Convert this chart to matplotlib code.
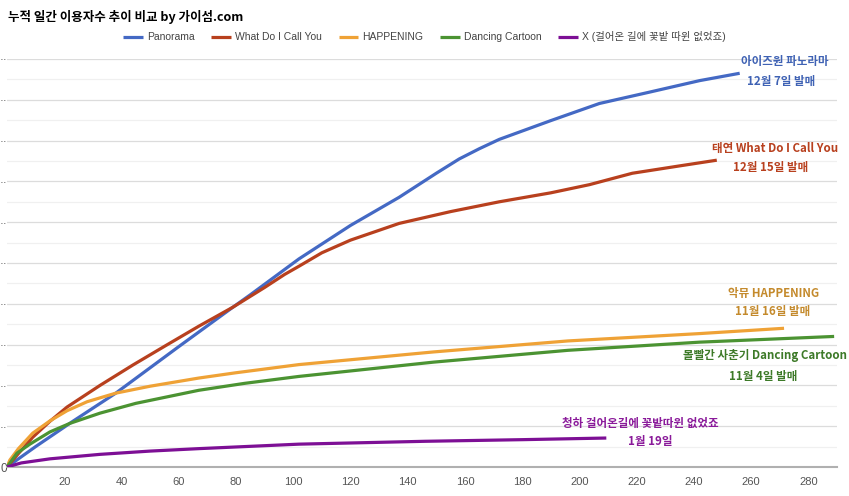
import matplotlib
matplotlib.use("Agg")
import matplotlib.pyplot as plt
from matplotlib.ticker import MultipleLocator

plt.rcParams['font.family'] = ['Liberation Sans', 'Noto Sans CJK KR']

# cumulative daily listeners (relative units)
pano_x = [0, 10, 23, 38, 60, 79, 85, 102, 120, 137, 150, 158, 165, 172, 190, 207, 224, 242, 256]
pano_y = [0, 0.5, 1.12, 1.81, 2.95, 3.92, 4.22, 5.1, 5.92, 6.61, 7.2, 7.55, 7.8, 8.03, 8.49, 8.91, 9.18, 9.47, 9.65]

wdicy_x = [0, 4, 9, 15, 21, 32.5, 44, 55.8, 67, 79, 90, 97, 102, 110, 120, 137, 155, 172, 190, 203.5, 218.5, 235, 248]
wdicy_y = [0, 0.33, 0.73, 1.12, 1.47, 2.0, 2.5, 2.99, 3.45, 3.92, 4.4, 4.72, 4.92, 5.25, 5.56, 5.97, 6.26, 6.5, 6.72, 6.92, 7.2, 7.38, 7.52]

happ_x = [0, 1, 4, 9, 15, 21, 28, 38, 50, 67, 80, 102, 149, 196, 242, 271.5]
happ_y = [0, 0.17, 0.45, 0.83, 1.13, 1.38, 1.6, 1.81, 1.98, 2.18, 2.31, 2.51, 2.82, 3.09, 3.27, 3.4]

dance_x = [0, 3.5, 8, 15, 22, 32.5, 45, 67, 83, 102, 149, 196, 242, 289]
dance_y = [0, 0.34, 0.56, 0.86, 1.07, 1.32, 1.56, 1.88, 2.05, 2.22, 2.57, 2.86, 3.06, 3.2]

x_x = [0, 5, 15, 32.5, 50, 67, 102, 146, 180, 209.4]
x_y = [0, 0.1, 0.2, 0.31, 0.39, 0.45, 0.56, 0.63, 0.67, 0.71]

names = ["Panorama", "What Do I Call You", "HAPPENING", "Dancing Cartoon",
         "X (걸어온 길에 꽃밭 따윈 없었죠)"]
colors = ["#4469c4", "#b8401e", "#efa236", "#4b9332", "#7d0f95"]
series = [(pano_x, pano_y), (wdicy_x, wdicy_y), (happ_x, happ_y),
          (dance_x, dance_y), (x_x, x_y)]

fig = plt.figure(figsize=(8.49, 4.96), dpi=100)
ax = fig.add_axes([7/849, 29/496, 830/849, 408/496])

for (xs, ys), c, n in zip(series, colors, names):
    ax.plot(xs, ys, color=c, linewidth=2.3, label=n, solid_capstyle='butt',
            solid_joinstyle='round', zorder=3)

ax.set_xlim(0, 290)
ax.set_ylim(0, 10)
ax.xaxis.set_major_locator(MultipleLocator(20))
ax.yaxis.set_minor_locator(MultipleLocator(0.5))
ax.grid(axis='y', which='major', color='#dcdcdc', linewidth=0.9)
ax.grid(axis='y', which='minor', color='#f0f0f0', linewidth=0.9)
ax.set_axisbelow(True)
for s in ['top', 'right', 'left']:
    ax.spines[s].set_visible(False)
ax.spines['bottom'].set_color('#b0b0b0')
ax.spines['bottom'].set_linewidth(1.5)
ax.tick_params(which='both', length=0, labelsize=8, colors='#555555')
ax.set_xticks(range(20, 290, 20))
ax.set_yticks(range(0, 11))
ax.set_yticklabels(['0'] + ['··'] * 10)
ax.tick_params(axis='y', pad=0, labelsize=8.5)
ax.tick_params(axis='x', pad=7)

fig.text(8/849, 1 - 17/496, "누적 일간 이용자수 추이 비교 by 가이섬.com",
         fontsize=9, fontweight='bold', va='center', ha='left',
         family=['Noto Sans CJK KR', 'DejaVu Sans'])

fig.legend(loc='center', bbox_to_anchor=(0.5, 1 - 37/496), ncol=5, frameon=False,
           fontsize=7.5, handlelength=1.9, columnspacing=1.6, handletextpad=0.4,
           labelcolor='#444444')

kfont = dict(fontsize=8.3, fontweight='bold', ha='center', va='center',
             family=['Noto Sans CJK KR', 'DejaVu Sans'])
notes = [
    (785, 61, "아이즈원 파노라마", "#3f62b4"),
    (781, 81, "12월 7일 발매", "#3f62b4"),
    (775, 148, "태연 What Do I Call You", "#b8401e"),
    (771, 167, "12월 15일 발매", "#b8401e"),
    (774, 293, "악뮤 HAPPENING", "#c48a2c"),
    (773, 311, "11월 16일 발매", "#c48a2c"),
    (765, 356, "볼빨간 사춘기 Dancing Cartoon", "#3d7a28"),
    (763, 376, "11월 4일 발매", "#3d7a28"),
    (640, 423, "청하 걸어온길에 꽃밭따윈 없었죠", "#8a1a9a"),
    (650, 441, "1월 19일", "#8a1a9a"),
]
for px, py, t, c in notes:
    fig.text(px/849, 1 - py/496, t, color=c, **kfont)

fig.savefig('out.png', dpi=100)
